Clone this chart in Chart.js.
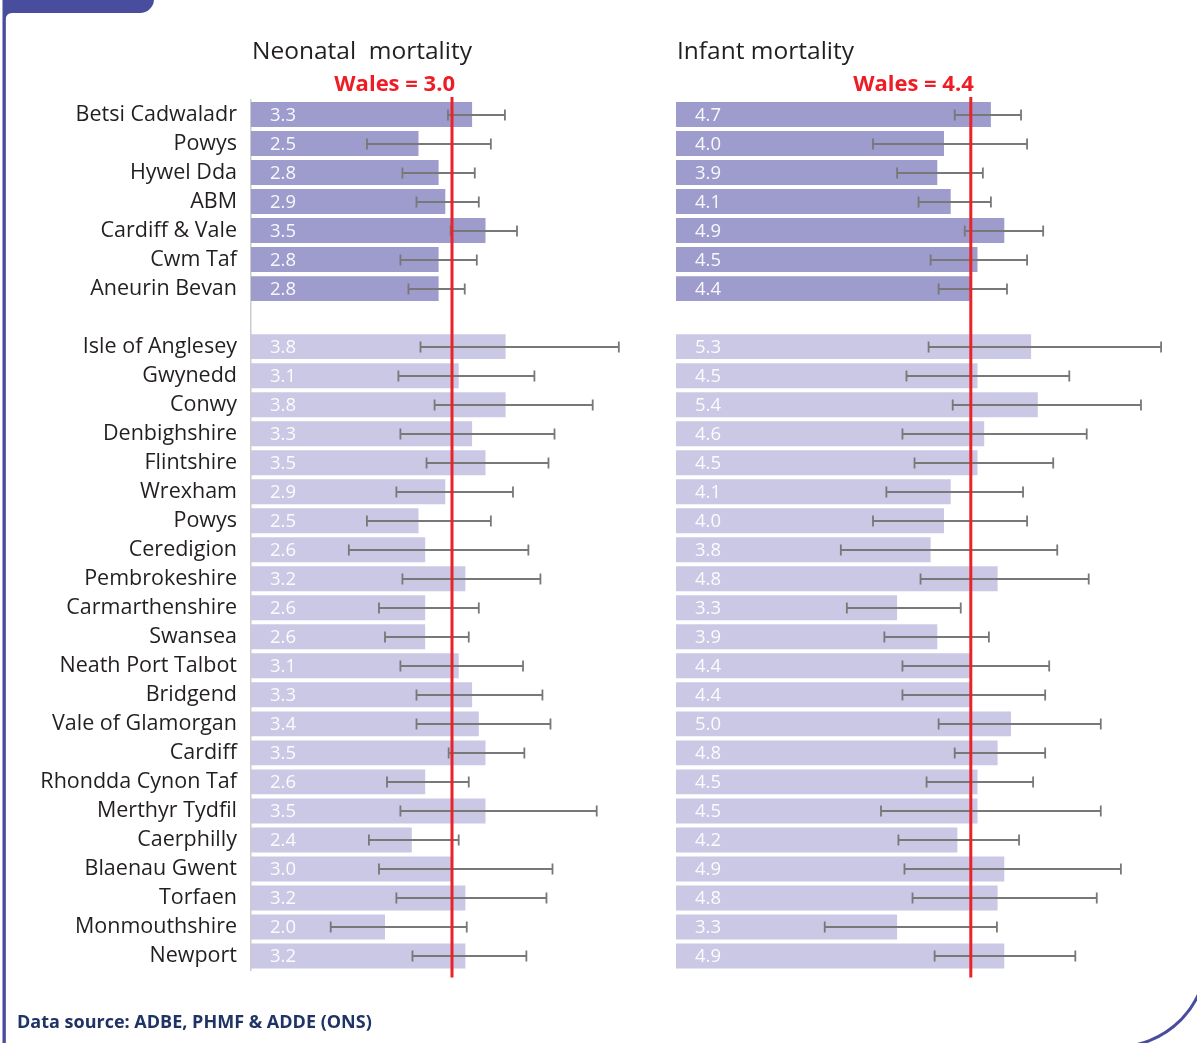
<!DOCTYPE html>
<html>
<head>
<meta charset="utf-8">
<script src="https://cdn.jsdelivr.net/npm/chart.js@4.4.1/dist/chart.umd.min.js"></script>
<style>
  html, body { margin: 0; padding: 0; background: #ffffff; }
  body { width: 1197px; height: 1043px; position: relative; overflow: hidden; font-family: "Open Sans", sans-serif; }
  #frame { position: absolute; left: 0; top: 0; }
  canvas { position: absolute; top: 0; }
  #neonatal { left: 0; }
  #infant { left: 676px; }
  #source { position: absolute; left: 17px; top: 1012px; font-size: 18px; line-height: 18px; font-weight: 700; color: #1f3464; white-space: nowrap; }
</style>
</head>
<body>
<svg id="frame" width="1197" height="1043">
  <path d="M0 0 H154 A14 14 0 0 1 140 13 H12 Q6 13 5.5 20 V1043 H2.7 V0 Z" fill="#484d9e"/>
  <line x1="4.2" y1="0" x2="4.2" y2="1043" stroke="#484d9e" stroke-width="3"/>
  <path d="M1207 956 A91 91 0 0 1 1116 1047" fill="none" stroke="#484d9e" stroke-width="3"/>
</svg>
<canvas id="neonatal" width="660" height="1043"></canvas>
<canvas id="infant" width="521" height="1043"></canvas>
<div id="source">Data source: ADBE, PHMF &amp; ADDE (ONS)</div>

<script>
// Health boards (top block) and local authorities (bottom block)
const boards = ['Betsi Cadwaladr', 'Powys', 'Hywel Dda', 'ABM', 'Cardiff & Vale', 'Cwm Taf', 'Aneurin Bevan'];
const authorities = ['Isle of Anglesey', 'Gwynedd', 'Conwy', 'Denbighshire', 'Flintshire', 'Wrexham', 'Powys',
  'Ceredigion', 'Pembrokeshire', 'Carmarthenshire', 'Swansea', 'Neath Port Talbot', 'Bridgend',
  'Vale of Glamorgan', 'Cardiff', 'Rhondda Cynon Taf', 'Merthyr Tydfil', 'Caerphilly', 'Blaenau Gwent',
  'Torfaen', 'Monmouthshire', 'Newport'];

// Neonatal mortality rate with 95% confidence limits
const neonatalBoardRate = [3.3, 2.5, 2.8, 2.9, 3.5, 2.8, 2.8];
const neonatalBoardLow  = [2.94, 1.73, 2.26, 2.47, 2.98, 2.23, 2.35];
const neonatalBoardHigh = [3.79, 3.58, 3.34, 3.40, 3.97, 3.37, 3.19];
const neonatalAuthRate = [3.8, 3.1, 3.8, 3.3, 3.5, 2.9, 2.5, 2.6, 3.2, 2.6, 2.6, 3.1, 3.3, 3.4, 3.5, 2.6, 3.5, 2.4, 3.0, 3.2, 2.0, 3.2];
const neonatalAuthLow  = [2.53, 2.20, 2.74, 2.23, 2.62, 2.17, 1.73, 1.46, 2.26, 1.91, 2.00, 2.23, 2.47, 2.47, 2.95, 2.03, 2.23, 1.76, 1.91, 2.17, 1.19, 2.41];
const neonatalAuthHigh = [5.49, 4.23, 5.10, 4.53, 4.44, 3.91, 3.58, 4.14, 4.32, 3.40, 3.25, 4.06, 4.35, 4.47, 4.08, 3.25, 5.16, 3.10, 4.50, 4.41, 3.22, 4.11];
const neonatalWales = 3.0;

// Infant mortality rate with 95% confidence limits
const infantBoardRate = [4.7, 4.0, 3.9, 4.1, 4.9, 4.5, 4.4];
const infantBoardLow  = [4.16, 2.94, 3.30, 3.62, 4.31, 3.80, 3.92];
const infantBoardHigh = [5.15, 5.24, 4.58, 4.70, 5.48, 5.24, 4.94];
const infantAuthRate = [5.3, 4.5, 5.4, 4.6, 4.5, 4.1, 4.0, 3.8, 4.8, 3.3, 3.9, 4.4, 4.4, 5.0, 4.8, 4.5, 4.5, 4.2, 4.9, 4.8, 3.3, 4.9];
const infantAuthLow  = [3.77, 3.44, 4.13, 3.38, 3.56, 3.14, 2.94, 2.46, 3.65, 2.55, 3.11, 3.38, 3.38, 3.92, 4.16, 3.74, 3.06, 3.32, 3.41, 3.53, 2.22, 3.86];
const infantAuthHigh = [7.24, 5.87, 6.94, 6.13, 5.63, 5.18, 5.24, 5.69, 6.16, 4.25, 4.67, 5.57, 5.51, 6.34, 5.51, 5.33, 6.34, 5.12, 6.64, 6.28, 4.79, 5.96];
const infantWales = 4.4;

// A blank row separates the two blocks
const categories = [...boards, '', ...authorities];
const join = (a, b) => [...a, null, ...b];

const FONT = '"Open Sans", sans-serif';
const BOARD_COLOUR = '#9e9ccc';
const AUTH_COLOUR = '#cac8e5';

function panelPlugin(title, rate, low, high, wales) {
  return {
    id: 'panelExtras',
    afterDatasetsDraw(chart) {
      const { ctx, chartArea } = chart;
      const xs = chart.scales.x;
      const bars = chart.getDatasetMeta(0).data;
      ctx.save();

      // rate printed inside each bar
      ctx.font = '18.5px ' + FONT;
      ctx.fillStyle = 'rgba(255,255,255,0.93)';
      ctx.textAlign = 'left';
      ctx.textBaseline = 'middle';
      bars.forEach((bar, i) => {
        if (rate[i] == null) return;
        ctx.fillText(rate[i].toFixed(1), chartArea.left + 19, bar.y + 1);
      });

      // confidence interval whiskers
      ctx.strokeStyle = '#787878';
      ctx.lineWidth = 1.8;
      bars.forEach((bar, i) => {
        if (low[i] == null) return;
        const x1 = xs.getPixelForValue(low[i]);
        const x2 = xs.getPixelForValue(high[i]);
        const y = Math.round(bar.y);
        ctx.beginPath();
        ctx.moveTo(x1, y); ctx.lineTo(x2, y);
        ctx.moveTo(x1, y - 5.5); ctx.lineTo(x1, y + 5.5);
        ctx.moveTo(x2, y - 5.5); ctx.lineTo(x2, y + 5.5);
        ctx.stroke();
      });

      // all-Wales reference line
      const wx = xs.getPixelForValue(wales);
      ctx.strokeStyle = '#e8232a';
      ctx.lineWidth = 3;
      ctx.beginPath();
      ctx.moveTo(wx, chartArea.top - 3);
      ctx.lineTo(wx, chartArea.bottom + 7);
      ctx.stroke();

      ctx.font = 'bold 22px ' + FONT;
      ctx.fillStyle = '#ee1c25';
      ctx.textAlign = 'right';
      ctx.textBaseline = 'alphabetic';
      ctx.fillText('Wales = ' + wales.toFixed(1), wx + 3, 91);

      // panel heading
      ctx.font = '24.5px ' + FONT;
      ctx.fillStyle = '#231f20';
      ctx.textAlign = 'left';
      ctx.fillText(title, chartArea.left + 1, 59);
      ctx.restore();
    }
  };
}

function makePanel(id, title, rate, low, high, wales, maxX, showNames, padRight) {
  const yScale = {
    display: showNames,
    grid: { display: false, drawTicks: false, tickLength: 0 },
    border: { display: showNames, color: '#cccccc', width: 1.5 },
    ticks: { font: { family: FONT, size: 21.5 }, color: '#231f20', padding: 14, autoSkip: false }
  };
  if (showNames) yScale.afterFit = (s) => { s.width = 251; };
  return new Chart(document.getElementById(id), {
    type: 'bar',
    data: {
      labels: categories,
      datasets: [{
        data: rate,
        backgroundColor: (c) => c.dataIndex < boards.length ? BOARD_COLOUR : AUTH_COLOUR,
        borderWidth: 0,
        barPercentage: 0.86,
        categoryPercentage: 1
      }]
    },
    options: {
      indexAxis: 'y',
      responsive: false,
      animation: false,
      layout: { padding: { top: 100, bottom: 72.5, left: 0, right: padRight } },
      plugins: { legend: { display: false }, tooltip: { enabled: false } },
      scales: {
        x: { display: false, min: 0, max: maxX },
        y: yScale
      }
    },
    plugins: [panelPlugin(title, rate, low, high, wales)]
  });
}

makePanel('neonatal', 'Neonatal  mortality',
  join(neonatalBoardRate, neonatalAuthRate),
  join(neonatalBoardLow, neonatalAuthLow),
  join(neonatalBoardHigh, neonatalAuthHigh),
  neonatalWales, 6.0, true, 7);

makePanel('infant', 'Infant mortality',
  join(infantBoardRate, infantAuthRate),
  join(infantBoardLow, infantAuthLow),
  join(infantBoardHigh, infantAuthHigh),
  infantWales, 7.5, false, 18.5);
</script>
</body>
</html>
